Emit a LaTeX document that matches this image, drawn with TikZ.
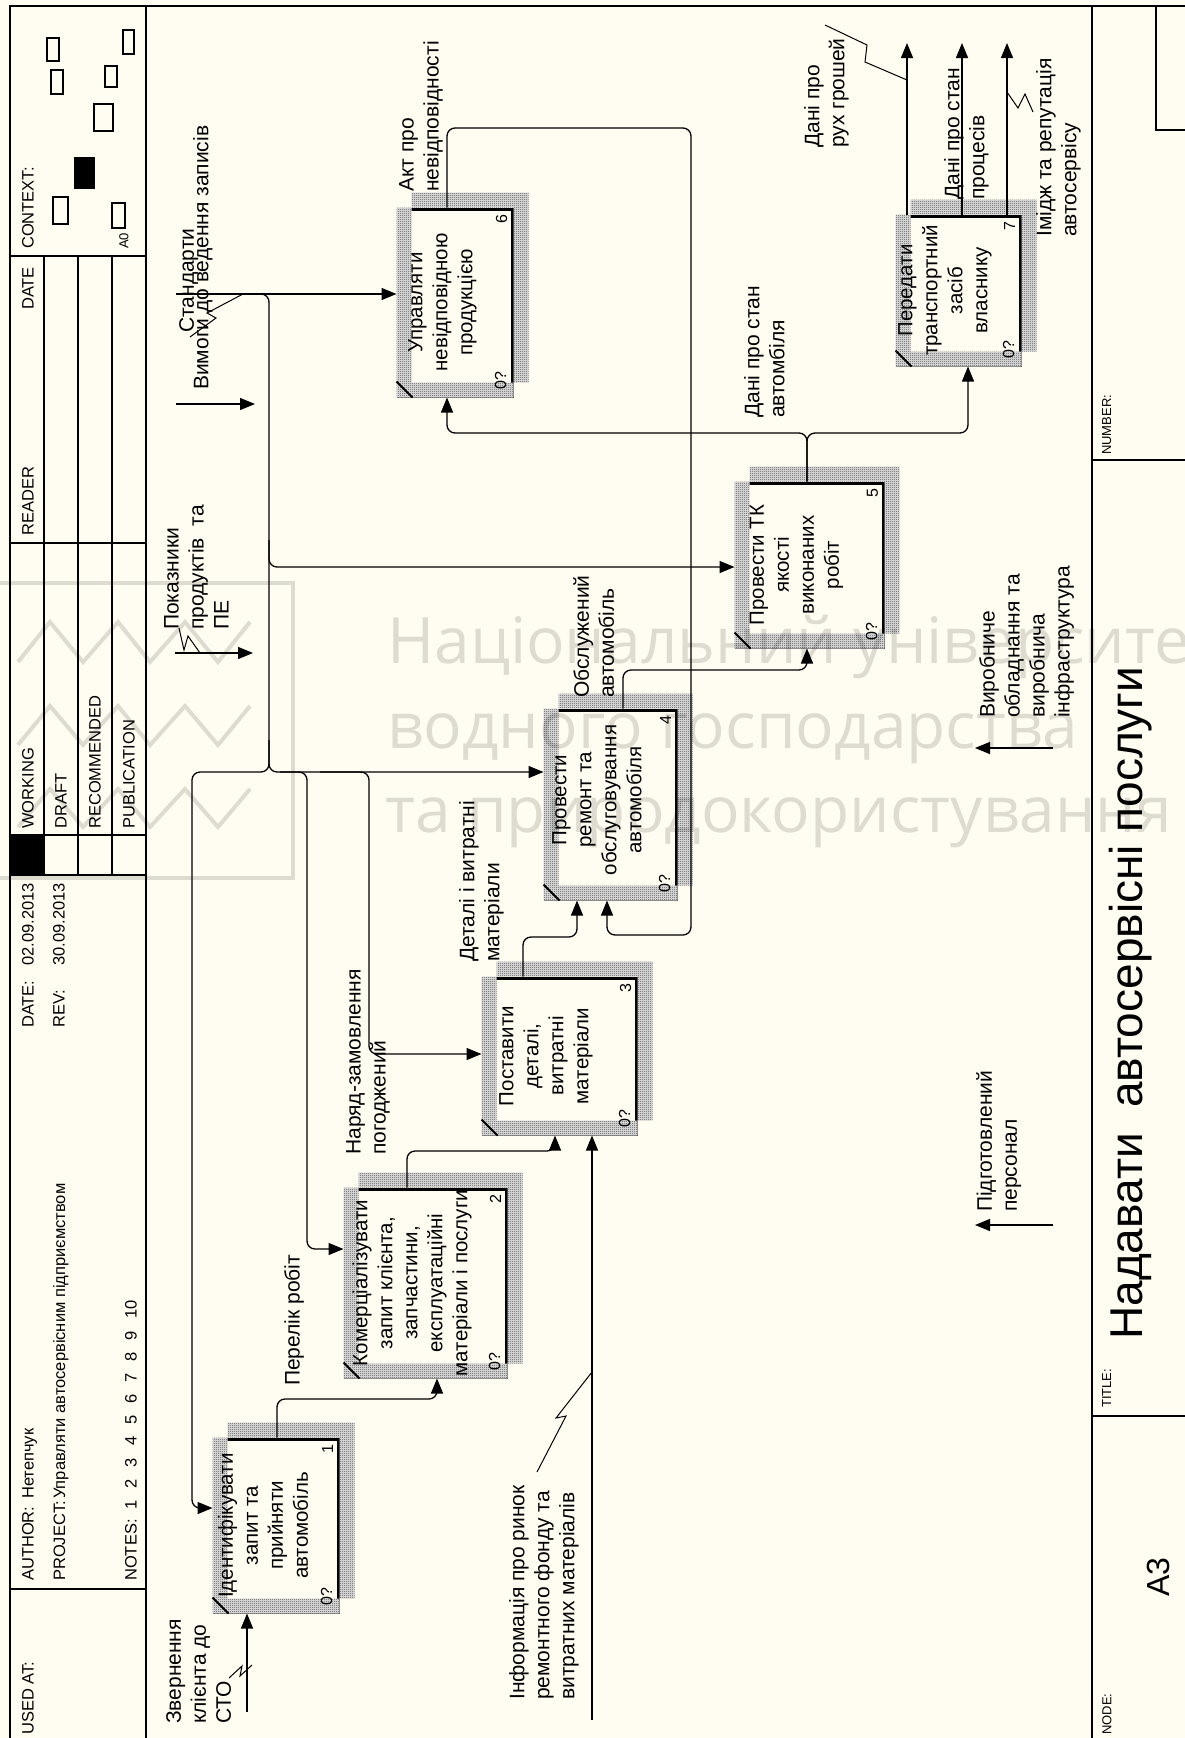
\documentclass[tikz,border=0pt]{standalone}
\usepackage{fontspec}
\setmainfont{Liberation Sans}
\newfontfamily\wmfont{Open Sans}
\usetikzlibrary{arrows.meta,patterns}
\definecolor{paper}{RGB}{255,252,241}
\pgfdeclarepatternformonly{checker}{\pgfpointorigin}{\pgfpoint{2pt}{2pt}}{\pgfpoint{2pt}{2pt}}{%
  \pgfpathrectangle{\pgfpointorigin}{\pgfpoint{1pt}{1pt}}%
  \pgfpathrectangle{\pgfpoint{1pt}{1pt}}{\pgfpoint{1pt}{1pt}}%
  \pgfusepath{fill}}

\begin{document}
\begin{tikzpicture}[x=1pt,y=-1pt,
    frm/.style={line width=1.6pt},
    fbox/.style={draw,line width=3pt,fill=paper,inner sep=0pt},
    btext/.style={rotate=90,align=center,inner sep=0pt,font=\fontsize{20.5}{25}\selectfont},
    num/.style={rotate=90,inner sep=0pt,font=\fontsize{16}{16}\selectfont},
    lbl/.style={rotate=90,anchor=north west,align=left,inner sep=0pt,font=\fontsize{21}{25}\selectfont},
    hdr/.style={rotate=90,anchor=north west,inner sep=0pt,font=\fontsize{16.5}{20}\selectfont},
    smalltxt/.style={rotate=90,anchor=north west,inner sep=0pt,font=\fontsize{13}{15}\selectfont},
    arr/.style={line width=1.3pt,rounded corners=8pt,-{Triangle[length=15pt,width=12pt]}},
    ln/.style={line width=1.3pt,rounded corners=8pt},
    sq/.style={line width=1pt},
    shd/.style={fill=black!10,postaction={pattern=checker,pattern color=black!70}}
]
\fill[paper] (0,0) rectangle (1185,1738);
\useasboundingbox (0,0) rectangle (1185,1738);

% form frame
\draw[frm] (10,1738) -- (10,6) -- (1185,6);
\draw[frm] (146,6) -- (146,1738);
\draw[frm] (1092,6) -- (1092,1738);
\draw[frm] (10,256) -- (146,256) (10,543) -- (146,543) (10,835) -- (146,835)
           (10,875) -- (146,875) (10,1589) -- (146,1589);
\draw[frm] (44,256) -- (44,875) (78,256) -- (78,875) (112,256) -- (112,875);
\fill (10,835) rectangle (44,875);
\draw[frm] (1092,460) -- (1185,460) (1092,1416) -- (1185,1416);
\draw[frm] (1185,130) -- (1156,130) -- (1156,6);

% context
\draw[line width=1.2pt] (47,38) rectangle (59,61) (51,70) rectangle (63,94)
  (123,30) rectangle (134,54) (105,66) rectangle (117,87) (94,104) rectangle (113,131)
  (53,197) rectangle (68,224) (112,203) rectangle (125,228);
\fill (74,157) rectangle (95,189);

% header texts
\node[hdr] (hctx) at (22,249) {CONTEXT:};
\node[smalltxt] (hnode) at (119,249) {A0};
\node[hdr] (hdate) at (22,310) {DATE};
\node[hdr] (hread) at (22,536) {READER};
\node[hdr] (hwork) at (22,829) {WORKING};
\node[hdr] (hdraft) at (55,829) {DRAFT};
\node[hdr] (hrec) at (89,829) {RECOMMENDED};
\node[hdr] (hpub) at (123,829) {PUBLICATION};
\node[hdr] (hd) at (22,1028) {\makebox[62pt][l]{DATE:}02.09.2013};
\node[hdr] (hrev) at (53,1028) {\makebox[62pt][l]{REV:}30.09.2013};
\node[hdr] (hauth) at (22,1581) {\makebox[82pt][l]{AUTHOR:}Нетепчук};
\node[hdr] (hproj) at (53,1581) {\makebox[82pt][l]{PROJECT:}Управляти автосервісним підприємством};
\node[hdr] (hnotes) at (125,1581) {NOTES:\hspace{10pt}1\hspace{12pt}2\hspace{12pt}3\hspace{12pt}4\hspace{12pt}5\hspace{12pt}6\hspace{12pt}7\hspace{12pt}8\hspace{12pt}9\hspace{12pt}10};
\node[hdr] (hused) at (22,1735) {USED AT:};

% bottom strip
\node[smalltxt] (fnum) at (1102,455) {NUMBER:};
\node[smalltxt] (ftitle) at (1102,1408) {TITLE:};
\node[smalltxt] (fnode) at (1102,1735) {NODE:};
\node[rotate=90,inner sep=0pt,font=\fontsize{46}{46}\selectfont] (title) at (1131,1003) {Надавати\ \ автосервісні послуги};
\node[rotate=90,inner sep=0pt,font=\fontsize{32}{32}\selectfont] (nodeno) at (1158,1577) {A3};

% activities
\node[fbox,minimum width=124pt,minimum height=173pt] (b1) at (276,1525.5) {};
\node[fbox,minimum width=161pt,minimum height=188pt] (b2) at (425.5,1283) {};
\node[fbox,minimum width=153pt,minimum height=156pt] (b3) at (559.5,1056) {};
\node[fbox,minimum width=131pt,minimum height=189pt] (b4) at (610.5,804.5) {};
\node[fbox,minimum width=147pt,minimum height=164pt] (b5) at (809.5,565) {};
\node[fbox,minimum width=114pt,minimum height=187pt] (b6) at (455,302.5) {};
\node[fbox,minimum width=123pt,minimum height=149pt] (b7) at (958.5,290.5) {};

\foreach \b/\n in {b1/1,b2/2,b3/3,b4/4,b5/5,b6/6,b7/7} {
  \fill[shd,even odd rule] ([shift={(15pt,15pt)}]\b.south west) rectangle ([shift={(15pt,15pt)}]\b.north east)
    (\b.south west) rectangle (\b.north east);
  \draw[line width=2pt] ([yshift=16pt]\b.south west) -- ([xshift=16pt]\b.south west);
  \node[num] (n\n) at ([xshift=-12pt,yshift=-12pt]\b.north east) {\n};
  \node[num] (c\n) at ([xshift=-13pt,yshift=17pt]\b.south east) {0?};
}

\node[btext] (t1) at (263,1525.5) {Ідентифікувати\\запит та\\прийняти\\автомобіль};
\node[btext] (t2) at (412,1283) {Комерціалізувати\\запит клієнта,\\запчастини,\\експлуатаційні\\матеріали і послуги};
\node[btext] (t3) at (546,1056) {Поставити\\деталі,\\витратні\\матеріали};
\node[btext] (t4) at (597,800) {Провести\\ремонт та\\обслуговування\\автомобіля};
\node[btext] (t5) at (796.5,565) {Провести ТК\\якості\\виконаних\\робіт};
\node[btext] (t6) at (442.5,302.5) {Управляти\\невідповідною\\продукцією};
\node[btext] (t7) at (945,290.5) {Передати\\транспортний\\засіб\\власнику};

% controls
\coordinate (cstd) at (176,294);
\coordinate (creq) at (176,404);
\coordinate (creqe) at (255,404);
\coordinate (cind) at (175,653);
\coordinate (cinde) at (253,653);
\coordinate (bus) at (269,772);
\draw[arr] (cstd) -- (cstd -| b6.west);
\draw[arr] (250,294) -- (269,294) -- (269,567) -- (269,567 -| b5.west);
\draw[arr] (269,540) -- (bus) -- (bus -| b4.west);
\draw[arr] (269,740) -- (bus) -- (192,772) -- (192,1508) -- (192,1508 -| b1.west);
\draw[arr] (280,772) -- (307,772) -- (307,1249) -- (307,1249 -| b2.west);
\draw[arr] (320,772) -- (369,772) -- (369,1054) -- (369,1054 -| b3.west);
\draw[arr] (creq) -- (creqe);
\draw[arr] (cind) -- (cinde);

% inputs
\coordinate (iclient) at (247,1712);
\coordinate (iinfo) at (592,1720);
\draw[arr] (iclient) -- (iclient |- b1.south);
\draw[arr] (iinfo) -- (iinfo |- b3.south);

% flows between activities
\draw[arr] (b1.north -| 277,0) -- (277,1399) -- (437,1399) -- (437,0 |- b2.south);
\draw[arr] (b2.north -| 407,0) -- (407,1151) -- (555,1151) -- (555,0 |- b3.south);
\draw[arr] (b3.north -| 523,0) -- (523,937) -- (577,937) -- (577,0 |- b4.south);
\draw[arr] (b4.north -| 623,0) -- (623,670) -- (807,670) -- (807,0 |- b5.south);
\draw[arr] (b5.north -| 807,0) -- (807,433) -- (447,433) -- (447,0 |- b6.south);
\draw[arr] (b5.north -| 807,0) -- (807,433) -- (968,433) -- (968,0 |- b7.south);
\draw[arr] (b6.north -| 447,0) -- (447,128) -- (691,128) -- (691,935) -- (607,935) -- (607,0 |- b4.south);

% outputs
\coordinate (omoney) at (907,43);
\coordinate (oproc) at (962,43);
\coordinate (oimage) at (1007,43);
\draw[arr] (b7.north -| omoney) -- (omoney);
\draw[arr] (b7.north -| oproc) -- (oproc);
\draw[arr] (b7.north -| oimage) -- (oimage);

% mechanisms
\coordinate (meq) at (1053,748);
\coordinate (meqe) at (975,748);
\coordinate (mstaff) at (1053,1225);
\coordinate (mstaffe) at (975,1225);
\draw[arr] (meq) -- (meqe);
\draw[arr] (mstaff) -- (mstaffe);

% squiggles
\draw[sq] (229,1678) -- (242,1666) -- (240,1676) -- (252,1665);
\draw[sq] (537,1472) -- (566,1416) -- (556,1418) -- (592,1372);
\draw[sq] (190,337) -- (216,318) -- (207,313) -- (243,294);
\draw[sq] (179,628) -- (184,650) -- (188,636) -- (200,653);
\draw[sq] (825,25) -- (867,45) -- (865,62) -- (907,80);
\draw[sq] (1007,92) -- (1018,108) -- (1025,94) -- (1033,112);

% arrow labels
\node[lbl] (lclient) at (166,1724) {Звернення\\клієнта до\\СТО};
\node[lbl] (llist) at (284,1386) {Перелік робіт};
\node[lbl] (lorder) at (346,1155) {Наряд-замовлення\\погоджений};
\node[lbl] (lparts) at (459,962) {Деталі і витратні\\матеріали};
\node[lbl] (linfo) at (509,1700) {Інформація про ринок\\ремонтного фонду та\\витратних матеріалів};
\node[lbl] (lind) at (164,630) {Показники\\продуктів\ \ та\\ПЕ};
\node[lbl] (lstd) at (179,333) {Стандарти};
\node[lbl] (lreq) at (193,390) {Вимоги до ведення записів};
\node[lbl] (lact) at (399,192) {Акт про\\невідповідності};
\node[lbl] (lserved) at (573,698) {Обслужений\\автомобіль};
\node[lbl] (lstate) at (744,418) {Дані про стан\\автомбіля};
\node[lbl] (lmoney) at (804,148) {Дані про\\рух грошей};
\node[lbl] (lproc) at (944,200) {Дані про стан\\процесів};
\node[lbl] (limage) at (1036,237) {Імідж та репутація\\автосервісу};
\node[lbl] (lequip) at (979,718) {Виробниче\\обладнання та\\виробнича\\інфраструктура};
\node[lbl] (lstaff) at (976,1212) {Підготовлений\\персонал};

% watermark
\begin{scope}[opacity=0.13]
\draw[line width=4pt] (-10,583) rectangle (293,878);
\draw[line width=4pt] (18,662) -- (50,622) -- (83,662) -- (118,622) -- (150,662) -- (185,622) -- (218,662) -- (250,622);
\draw[line width=4pt] (18,745) -- (50,706) -- (83,745) -- (118,706) -- (150,745) -- (185,706) -- (218,745) -- (250,706);
\draw[line width=4pt] (18,827) -- (50,789) -- (83,827) -- (118,789) -- (150,827) -- (185,789) -- (218,827) -- (250,789);
\node[anchor=base west,inner sep=0pt,font=\wmfont\fontsize{64}{64}\selectfont] (wm1) at (387,663) {Національний університет};
\node[anchor=base west,inner sep=0pt,font=\wmfont\fontsize{64}{64}\selectfont] (wm2) at (387,748) {водного господарства};
\node[anchor=base west,inner sep=0pt,font=\wmfont\fontsize{64}{64}\selectfont] (wm3) at (385,832) {та природокористування};
\end{scope}
\end{tikzpicture}
\end{document}
